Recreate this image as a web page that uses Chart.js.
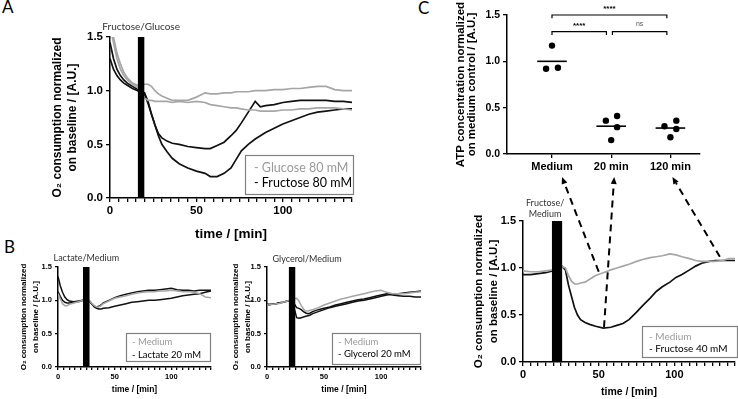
<!DOCTYPE html>
<html>
<head>
<meta charset="utf-8">
<script src="https://cdn.jsdelivr.net/npm/chart.js@4.4.1/dist/chart.umd.min.js"></script>
<style>
  body { margin: 0; width: 738px; height: 399px; overflow: hidden; position: relative; background: #fff; }
  canvas { position: absolute; }
  .letter { position: absolute; font: 17px 'Lato'; line-height: 17px; color: #000; }
</style>
</head>
<body>
<div class="letter" style="left:2px;top:-2px">A</div>
<div class="letter" style="left:4px;top:238px">B</div>
<div class="letter" style="left:418px;top:-1px">C</div>

<script>
// ---- panel A : fructose / glucose 80 mM ----
const a_time = [0,2,4,6,8,10,13,16,20,22,24,26,28,30,33,36,40,45,50,55,58,62,66,70,73,76,80,84,87,90,95,100,105,110,115,120,125,130,135,140];
const a_glucose_1 = [1.7,1.5,1.35,1.25,1.17,1.12,1.07,1.05,1.06,1.06,1.04,1.0,0.97,0.95,0.93,0.91,0.91,0.91,0.94,0.98,0.97,0.97,0.98,0.98,0.99,0.99,0.99,1.0,1.0,1.0,1.01,1.01,1.02,1.02,1.03,1.04,1.04,1.01,1.0,1.0];
const a_glucose_2 = [1.6,1.45,1.3,1.2,1.14,1.1,1.06,1.03,0.93,0.91,0.91,0.9,0.9,0.9,0.9,0.89,0.9,0.89,0.9,0.89,0.87,0.86,0.85,0.84,0.84,0.83,0.82,0.82,0.81,0.81,0.81,0.82,0.82,0.83,0.83,0.84,0.84,0.84,0.83,0.82];
const a_fructose_1 = [1.45,1.3,1.2,1.14,1.1,1.07,1.04,1.01,0.98,0.9,0.78,0.68,0.6,0.56,0.53,0.51,0.5,0.48,0.47,0.46,0.46,0.49,0.52,0.58,0.63,0.7,0.8,0.9,0.85,0.86,0.87,0.89,0.9,0.91,0.91,0.91,0.91,0.9,0.9,0.89];
const a_fructose_2 = [1.3,1.2,1.14,1.1,1.07,1.05,1.02,1.0,0.97,0.88,0.78,0.68,0.58,0.5,0.43,0.37,0.32,0.28,0.25,0.23,0.2,0.2,0.23,0.28,0.36,0.44,0.5,0.55,0.58,0.61,0.65,0.69,0.72,0.75,0.78,0.8,0.81,0.82,0.83,0.83];
const a_bar = [16, 20];

// ---- panel B : lactate / glycerol 20 mM ----
const b_time = [0,2,4,6,8,10,14,18,22,26,28,30,32,34,36,38,40,45,50,55,60,65,70,75,80,85,90,95,100,105,110,115,120,125,130,135];
const b_lac_medium = [1.1,1.02,0.95,0.92,0.92,0.94,0.96,0.98,1.0,1.01,0.99,0.95,0.92,0.9,0.9,0.92,0.95,0.99,1.03,1.05,1.07,1.09,1.11,1.12,1.13,1.13,1.14,1.14,1.15,1.14,1.13,1.13,1.12,1.1,1.05,1.04];
const b_lac_1 = [1.36,1.22,1.12,1.05,1.01,0.99,0.98,0.99,1.0,1.01,0.99,0.94,0.9,0.88,0.87,0.87,0.88,0.89,0.91,0.93,0.95,0.97,0.98,0.99,1.0,1.0,1.01,1.02,1.03,1.05,1.07,1.08,1.09,1.1,1.12,1.14];
const b_lac_2 = [1.13,1.06,1.0,0.97,0.96,0.96,0.97,0.98,1.0,1.01,0.98,0.94,0.91,0.9,0.91,0.93,0.96,1.0,1.04,1.07,1.09,1.11,1.13,1.14,1.15,1.15,1.16,1.17,1.18,1.16,1.15,1.15,1.14,1.15,1.15,1.15];
const b_lac_bar = [22, 28];
const b_gly_medium = [0.93,0.93,0.94,0.94,0.95,0.95,0.97,0.99,1.02,1.03,0.99,0.92,0.87,0.84,0.84,0.85,0.86,0.89,0.93,0.96,0.99,1.02,1.04,1.06,1.08,1.1,1.12,1.14,1.15,1.12,1.1,1.1,1.1,1.11,1.12,1.13];
const b_gly_1 = [0.94,0.94,0.94,0.95,0.95,0.96,0.97,0.99,1.0,0.74,0.73,0.74,0.75,0.76,0.77,0.78,0.8,0.83,0.86,0.89,0.91,0.93,0.95,0.97,0.99,1.0,1.02,1.04,1.06,1.08,1.09,1.1,1.11,1.12,1.13,1.14];
const b_gly_2 = [0.93,0.93,0.94,0.94,0.95,0.96,0.97,0.99,1.0,0.89,0.88,0.86,0.83,0.81,0.8,0.81,0.83,0.86,0.88,0.9,0.93,0.95,0.97,0.99,1.01,1.02,1.04,1.06,1.08,1.1,1.08,1.07,1.06,1.06,1.05,1.05];
const b_gly_bar = [19, 25];

// ---- panel C : ATP and fructose 40 mM ----
const c_groups = ['Medium', '20 min', '120 min'];
const c_atp_medium = [1.17, 0.92, 0.93];
const c_atp_20min = [0.36, 0.41, 0.29, 0.15];
const c_atp_120min = [0.30, 0.36, 0.27, 0.18];
const c_atp_means = [1.0, 0.30, 0.28];
const c_brackets = [
  {from: 0, to: 1.94, y: 1.5, label: '****'},
  {from: 0, to: 0.92, y: 1.32, label: '****'},
  {from: 1.02, to: 1.94, y: 1.32, label: 'ns'}
];
const c_time = [0,5,10,15,20,25,28,30,32,34,36,38,41,44,48,53,58,62,66,70,75,79,84,88,92,97,101,105,110,114,118,123,127,132,136,140];
const c_medium = [0.97,0.96,0.96,0.97,0.98,1.02,1.0,0.92,0.86,0.83,0.83,0.84,0.85,0.88,0.92,0.95,0.98,1.0,1.02,1.04,1.07,1.09,1.11,1.12,1.13,1.15,1.14,1.12,1.1,1.08,1.07,1.07,1.07,1.08,1.1,1.1];
const c_fructose = [0.93,0.93,0.94,0.95,0.97,1.03,0.98,0.82,0.7,0.58,0.5,0.45,0.42,0.4,0.38,0.36,0.37,0.39,0.41,0.45,0.53,0.6,0.68,0.75,0.8,0.85,0.9,0.93,0.98,1.02,1.05,1.07,1.08,1.08,1.08,1.08];
const c_bar = [19, 26];
// arrows: from a time point on the trace below to the ATP group above
const c_arrow_time = [50, 53.5, 130];
const c_arrow_value = [0.96, 0.37, 1.12];
const c_arrow_group = [0, 1, 2];

// ---- styles ----
const GREY = '#a6a6a6';
const BLACK = '#111';
const AXIS_FONT = "'Liberation Sans', 'DejaVu Sans', sans-serif";
const NOTE_FONT = "Lato, 'Open Sans', sans-serif";
const dot_spread = [[0, -0.1, 0.1], [-0.09, 0.1, 0.1, 0], [-0.1, 0.1, 0.1, 0]];

Chart.defaults.font.family = AXIS_FONT;
Chart.defaults.color = '#000';

const pts = (t, v) => t.map((x, i) => ({x: x, y: v[i]}));

const box_legend = {
  id: 'boxLegend',
  afterDraw(chart, args, o) {
    if (!o.items) return;
    const ctx = chart.ctx, ca = chart.chartArea;
    const x = Math.round(ca.right + o.dx - o.w), y = Math.round(ca.bottom - o.dy - o.h);
    ctx.save();
    ctx.fillStyle = '#fff';
    ctx.fillRect(x, y, o.w, o.h);
    ctx.strokeStyle = '#808080';
    ctx.lineWidth = 1.2;
    ctx.strokeRect(x + 0.5, y + 0.5, o.w, o.h);
    ctx.font = o.font;
    ctx.textBaseline = 'middle';
    o.items.forEach((it, i) => {
      ctx.fillStyle = it.color;
      ctx.fillText('- ' + it.text, x + o.padX, y + o.rows[i]);
    });
    ctx.restore();
  }
};

const bar_label = {
  id: 'barLabel',
  afterDraw(chart, args, o) {
    if (!o.lines) return;
    const ctx = chart.ctx;
    const x = chart.scales.x.getPixelForValue(o.at) + (o.dx || 0);
    ctx.save();
    ctx.font = o.font;
    ctx.fillStyle = '#333';
    ctx.textAlign = 'center';
    ctx.textBaseline = 'middle';
    o.lines.forEach((l, i) => {
      ctx.fillText(l, x, chart.chartArea.top - o.gap - (o.lines.length - 1 - i) * o.lh);
    });
    ctx.restore();
  }
};

const sig_labels = {
  id: 'sigLabels',
  afterDraw(chart, args, o) {
    if (!o.brackets) return;
    const ctx = chart.ctx, sx = chart.scales.x, sy = chart.scales.y;
    ctx.save();
    ctx.textAlign = 'center';
    ctx.textBaseline = 'middle';
    o.brackets.forEach(b => {
      const ns = b.label === 'ns';
      ctx.font = ns ? "7px " + AXIS_FONT : "bold 8px " + AXIS_FONT;
      ctx.fillStyle = ns ? '#555' : '#000';
      ctx.fillText(b.label, sx.getPixelForValue((b.from + b.to) / 2), sy.getPixelForValue(b.y) - (ns ? 8 : 6));
    });
    ctx.restore();
  }
};

function make_canvas(id, box) {
  const cv = document.createElement('canvas');
  cv.id = id;
  cv.width = box.width;
  cv.height = box.height;
  cv.style.left = box.left + 'px';
  cv.style.top = box.top + 'px';
  cv.style.width = box.width + 'px';
  cv.style.height = box.height + 'px';
  document.body.appendChild(cv);
  return cv.getContext('2d');
}

function axis_common(tick_font, tick_len) {
  return {
    grid: {drawOnChartArea: false, color: '#000', lineWidth: 1.3, tickLength: tick_len},
    border: {color: '#000', width: 1.5},
    ticks: {font: {size: tick_font, weight: 'bold'}, color: '#000', padding: 2, autoSkip: false, maxRotation: 0, minRotation: 0}
  };
}

// one O2 trace panel
function trace_chart(id, s) {
  const ctx = make_canvas(id, s.box);
  const xa = axis_common(s.tick_font, s.tick_len);
  const ya = axis_common(s.tick_font, s.tick_len);
  const y_width = s.area.l - s.box.left;
  const x_height = s.box.top + s.box.height - s.area.b;
  const datasets = [{
    data: pts(s.bar, [1.5, 1.5]), fill: 'origin', backgroundColor: '#000',
    borderWidth: 0, pointRadius: 0, order: 0
  }];
  s.series.forEach(tr => datasets.push({
    data: pts(tr.t, tr.v), borderColor: tr.color, borderWidth: s.line_w,
    pointRadius: 0, fill: false, tension: 0, order: 1
  }));
  return new Chart(ctx, {
    type: 'line',
    data: {datasets: datasets},
    options: {
      responsive: false, animation: false, devicePixelRatio: 1, events: [],
      layout: {padding: {top: s.area.t - s.box.top, right: s.box.left + s.box.width - s.area.r, left: 0, bottom: 0}},
      plugins: {
        legend: {display: false},
        tooltip: {enabled: false},
        boxLegend: s.legend,
        barLabel: Object.assign({at: (s.bar[0] + s.bar[1]) / 2}, s.bar_label)
      },
      scales: {
        x: Object.assign(xa, {
          type: 'linear', min: 0, max: s.xmax,
          ticks: Object.assign(xa.ticks, {stepSize: 5, callback: v => (v % 50 === 0 ? v : '')}),
          title: {display: true, text: 'time / [min]', color: '#000',
                  font: {size: s.xtitle_font, weight: 'bold'}, padding: {top: 2, bottom: s.xtitle_pad}},
          afterFit: sc => { sc.height = x_height; }
        }),
        y: Object.assign(ya, {
          min: 0, max: 1.5,
          ticks: Object.assign(ya.ticks, {stepSize: 0.5, padding: 3, callback: v => v.toFixed(1)}),
          title: {display: true, text: ['O₂ consumption normalized', 'on baseline / [A.U.]'], color: '#000',
                  font: {size: s.ytitle_font, weight: 'bold', lineHeight: s.ytitle_lh}, padding: {top: 4, bottom: 0}},
          afterFit: sc => { sc.width = y_width; }
        })
      }
    },
    plugins: [box_legend, bar_label]
  });
}

// ---- A ----
trace_chart('chartA', {
  box: {left: 46, top: 18, width: 312, height: 228},
  area: {l: 110, t: 37, r: 352, b: 198},
  xmax: 140, bar: a_bar, tick_font: 11.5, tick_len: 4, line_w: 1.7,
  xtitle_font: 13.5, xtitle_pad: 4, ytitle_font: 12, ytitle_lh: 1.25,
  series: [
    {t: a_time, v: a_glucose_1, color: GREY},
    {t: a_time, v: a_glucose_2, color: GREY},
    {t: a_time, v: a_fructose_1, color: BLACK},
    {t: a_time, v: a_fructose_2, color: BLACK}
  ],
  bar_label: {lines: ['Fructose/Glucose'], font: '10px ' + NOTE_FONT, gap: 10, lh: 11},
  legend: {items: [{text: 'Glucose 80 mM', color: '#9a9a9a'}, {text: 'Fructose 80 mM', color: '#000'}],
           w: 108, h: 39, dx: 1, dy: 4, padX: 9, rows: [13, 28], font: '12.5px ' + NOTE_FONT}
});

// ---- B left ----
trace_chart('chartB1', {
  box: {left: 13, top: 248, width: 204, height: 151},
  area: {l: 58, t: 267, r: 211, b: 367},
  xmax: 135, bar: b_lac_bar, tick_font: 7.5, tick_len: 3, line_w: 1.5,
  xtitle_font: 8.5, xtitle_pad: 4, ytitle_font: 8, ytitle_lh: 1.6,
  series: [
    {t: b_time, v: b_lac_medium, color: GREY},
    {t: b_time, v: b_lac_1, color: BLACK},
    {t: b_time, v: b_lac_2, color: BLACK}
  ],
  bar_label: {lines: ['Lactate/Medium'], font: '9px ' + NOTE_FONT, gap: 9, lh: 10},
  legend: {items: [{text: 'Medium', color: '#9a9a9a'}, {text: 'Lactate 20 mM', color: '#000'}],
           w: 84, h: 28, dx: -1, dy: 6, padX: 6, rows: [9, 22], font: '9.5px ' + NOTE_FONT}
});

// ---- B right ----
trace_chart('chartB2', {
  box: {left: 225, top: 248, width: 202, height: 151},
  area: {l: 267, t: 267, r: 421, b: 367},
  xmax: 135, bar: b_gly_bar, tick_font: 7.5, tick_len: 3, line_w: 1.5,
  xtitle_font: 8.5, xtitle_pad: 4, ytitle_font: 8, ytitle_lh: 1.6,
  series: [
    {t: b_time, v: b_gly_medium, color: GREY},
    {t: b_time, v: b_gly_1, color: BLACK},
    {t: b_time, v: b_gly_2, color: BLACK}
  ],
  bar_label: {lines: ['Glycerol/Medium'], font: '9px ' + NOTE_FONT, gap: 8, lh: 10, dx: 15},
  legend: {items: [{text: 'Medium', color: '#9a9a9a'}, {text: 'Glycerol 20 mM', color: '#000'}],
           w: 88, h: 31, dx: -1, dy: 3, padX: 6, rows: [9, 21], font: '9.5px ' + NOTE_FONT}
});

// ---- C bottom ----
const chartC2 = trace_chart('chartC2', {
  box: {left: 467, top: 195, width: 271, height: 204},
  area: {l: 523, t: 221, r: 735, b: 362},
  xmax: 140, bar: c_bar, tick_font: 11, tick_len: 4, line_w: 1.7,
  xtitle_font: 10.5, xtitle_pad: 1, ytitle_font: 11.5, ytitle_lh: 1.3,
  series: [
    {t: c_time, v: c_medium, color: GREY},
    {t: c_time, v: c_fructose, color: BLACK}
  ],
  bar_label: {lines: ['Fructose/', 'Medium'], font: '9px ' + NOTE_FONT, gap: 7, lh: 11, dx: -12},
  legend: {items: [{text: 'Medium', color: '#9a9a9a'}, {text: 'Fructose 40 mM', color: '#000'}],
           w: 95, h: 31, dx: 2, dy: 5, padX: 7, rows: [11, 23], font: '10px ' + NOTE_FONT}
});

// ---- C top : ATP scatter ----
const c_top_box = {left: 451, top: 0, width: 257, height: 185};
const c_top_area = {l: 507, t: 15, r: 700, b: 154};
const atp_groups = [c_atp_medium, c_atp_20min, c_atp_120min];
const dots = [];
atp_groups.forEach((vals, g) => vals.forEach((v, i) => dots.push({x: g + dot_spread[g][i], y: v})));
const atp_sets = [{type: 'scatter', data: dots, pointRadius: 3.2, backgroundColor: '#000', borderWidth: 0}];
c_atp_means.forEach((m, g) => atp_sets.push({
  type: 'line', data: [{x: g - 0.25, y: m}, {x: g + 0.25, y: m}],
  borderColor: '#000', borderWidth: 1.6, pointRadius: 0
}));
const tick_drop = 0.035;
c_brackets.forEach(b => atp_sets.push({
  type: 'line', clip: false,
  data: [{x: b.from, y: b.y - tick_drop}, {x: b.from, y: b.y}, {x: b.to, y: b.y}, {x: b.to, y: b.y - tick_drop}],
  borderColor: '#000', borderWidth: 1.2, pointRadius: 0
}));

const cxa = axis_common(11, 4);
const cya = axis_common(10.5, 4);
const chartC1 = new Chart(make_canvas('chartC1', c_top_box), {
  type: 'scatter',
  data: {datasets: atp_sets},
  options: {
    responsive: false, animation: false, devicePixelRatio: 1, events: [],
    layout: {padding: {top: c_top_area.t - c_top_box.top, right: c_top_box.left + c_top_box.width - c_top_area.r, left: 0, bottom: 0}},
    plugins: {legend: {display: false}, tooltip: {enabled: false}, sigLabels: {brackets: c_brackets}},
    scales: {
      x: Object.assign(cxa, {
        type: 'linear', min: -0.76, max: 2.5,
        afterBuildTicks: sc => { sc.ticks = c_groups.map((g, i) => ({value: i})); },
        ticks: Object.assign(cxa.ticks, {callback: v => c_groups[v]}),
        afterFit: sc => { sc.height = c_top_box.top + c_top_box.height - c_top_area.b; }
      }),
      y: Object.assign(cya, {
        min: 0, max: 1.5,
        ticks: Object.assign(cya.ticks, {stepSize: 0.5, padding: 3, callback: v => v.toFixed(1)}),
        title: {display: true, text: ['ATP concentration normalized', 'on medium control / [A.U.]'], color: '#000',
                font: {size: 11.5, weight: 'bold', lineHeight: 1.0}, padding: {top: 4, bottom: 0}},
        afterFit: sc => { sc.width = c_top_area.l - c_top_box.left; }
      })
    }
  },
  plugins: [sig_labels]
});

// ---- dashed arrows linking the trace to the ATP groups ----
const arrow_dx = [10, 3, 2];
const ov = make_canvas('overlay', {left: 0, top: 0, width: 738, height: 399});
ov.canvas.style.pointerEvents = 'none';
function draw_arrow(ctx, x0, y0, x1, y1) {
  const ang = Math.atan2(y1 - y0, x1 - x0);
  const head = 7;
  const xe = x1 - Math.cos(ang) * head, ye = y1 - Math.sin(ang) * head;
  ctx.strokeStyle = '#000';
  ctx.fillStyle = '#000';
  ctx.lineWidth = 2;
  ctx.setLineDash([7, 5]);
  ctx.beginPath(); ctx.moveTo(x0, y0); ctx.lineTo(xe, ye); ctx.stroke();
  ctx.setLineDash([]);
  ctx.beginPath();
  ctx.moveTo(x1, y1);
  ctx.lineTo(xe + Math.cos(ang + Math.PI / 2) * 3, ye + Math.sin(ang + Math.PI / 2) * 3);
  ctx.lineTo(xe - Math.cos(ang + Math.PI / 2) * 3, ye - Math.sin(ang + Math.PI / 2) * 3);
  ctx.closePath();
  ctx.fill();
}
c_arrow_time.forEach((t, i) => {
  const x0 = 467 + chartC2.scales.x.getPixelForValue(t);
  const y0 = 195 + chartC2.scales.y.getPixelForValue(c_arrow_value[i]);
  const x1 = c_top_box.left + chartC1.scales.x.getPixelForValue(c_arrow_group[i]) + arrow_dx[i];
  const y1 = c_top_box.top + chartC1.chartArea.bottom + 23;
  draw_arrow(ov, x0, y0, x1, y1);
});
</script>
</body>
</html>
